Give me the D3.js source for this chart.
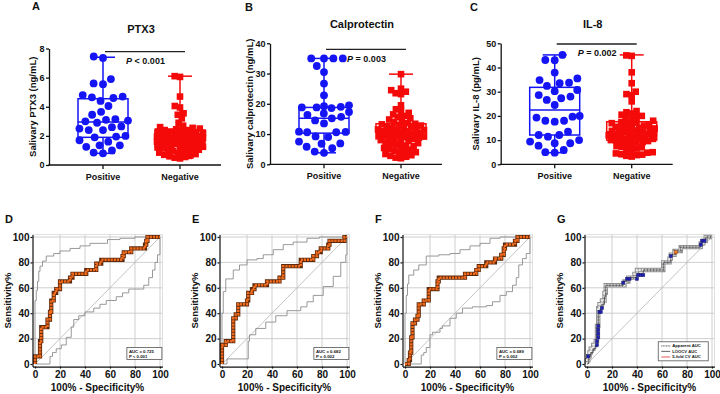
<!DOCTYPE html>
<html><head><meta charset="utf-8">
<script src="https://cdn.jsdelivr.net/npm/d3@7"></script>
<style>
body{margin:0;background:#fff}
svg{display:block}
text{font-family:"Liberation Sans",Arial,Helvetica,sans-serif;font-weight:bold;fill:#111}
</style>
</head><body>
<svg id="chart" width="720" height="394"></svg>
<script>
// ---------------- DATA ----------------
const groups = ["Positive", "Negative"];

const ptx3Pos = [7.45,7.35,5.9,5.6,5.55,4.8,4.7,4.65,4.6,4.4,4.05,3.65,3.45,3.15,3.1,3.05,3.0,2.9,2.65,2.6,2.5,2.4,2.4,2.0,1.95,1.9,1.7,1.6,1.35,1.35,1.25,1.0,0.85,0.8];
const ptx3Neg = [6.1,6.05,4.7,4.05,3.95,3.55,3.45,3.2,2.9,2.7,2.6,2.55,2.5,2.45,2.4,2.4,2.35,2.3,2.3,2.25,2.2,2.2,2.15,2.1,2.1,2.05,2.0,2.0,1.95,1.9,1.9,1.85,1.85,1.8,1.8,1.75,1.7,1.7,1.65,1.6,1.6,1.6,1.55,1.5,1.5,1.45,1.4,1.4,1.35,1.3,1.3,1.25,1.2,1.2,1.15,1.1,1.05,1.0,1.0,0.95,0.9,0.85,0.8,0.75,0.7,0.65,0.6,0.55,0.5,0.45];
const ptx3PosBox = [0.8, 1.9, 2.95, 4.55, 7.4];   // min, Q1, median, Q3, max
const ptx3NegBox = [0.45, 1.3, 1.8, 2.4, 6.1];
const ptx3Ticks = [0, 2, 4, 6, 8];

const calPos = [35,35,35,35,32.5,30.5,26.7,22.8,19.5,19.2,19,18.8,18.8,18.6,17.3,16.8,16.3,15.7,15.2,14.5,13.5,10.8,10.7,10.6,10.6,9.2,9,7.5,6.9,6.8,5.8,5.3,4.2,3.8];
const calNeg = [29.8,25.0,24.5,24.0,23.5,23.2,19.5,18.2,17.6,17.0,16.5,16.0,15.6,15.2,14.8,14.4,14.0,13.6,13.4,13.2,13.0,12.8,12.5,12.4,12.2,12.0,11.8,11.5,11.3,11.2,11.0,10.9,10.8,10.6,10.4,10.2,10.0,9.8,9.6,9.5,9.4,9.2,9.0,8.8,8.6,8.4,8.2,8.0,7.8,7.5,7.2,7.0,6.8,6.5,6.2,6.0,5.7,5.4,5.0,4.8,4.5,4.2,4.0,3.7,3.4,3.0,2.8,2.5,2.2,2.0];
const calPosBox = [3.8, 10.3, 15.2, 18.8, 35];
const calNegBox = [2.6, 8.4, 10.8, 13.4, 29.8];
const calTicks = [0, 10, 20, 30, 40];

const il8Pos = [45.2,43.1,43.0,37.9,35.5,34.8,33.7,33.5,32.4,30.7,30.2,28.6,28.0,27.3,26.6,24.5,20.0,19.7,19.3,18.0,18.0,17.6,13.5,12.1,12.1,11.4,10.0,9.4,8.7,8.7,7.7,5.9,4.8,5.0];
const il8Neg = [45,44.8,38,33.5,30,29,28.5,26,22,21.5,21,20.5,20,19.5,19,18.5,18,17.5,17.2,17,16.8,16.5,16.2,16,15.5,15.2,15,14.8,14.5,14.2,14,13.8,13.6,13.5,13.2,13,12.8,12.6,12.3,12,11.8,11.5,11.2,11,10.8,10.6,10.5,10.2,10,9.8,9.6,9.5,9.2,9,8.5,8,7.5,7.2,7,6.5,6,5.5,5,4.8,4.5,4.2,4,3.8,3.5,3.2];
const il8PosBox = [4.8, 12.1, 22.4, 31.8, 45.2];
const il8NegBox = [3.2, 10.0, 13.5, 17.6, 45.2];
const il8Ticks = [0, 10, 20, 30, 40, 50];

const topTitles = ["PTX3", "Calprotectin", "IL-8"];
const topYLabels = ["Salivary PTX3 (ng/mL)", "Salivary calprotectin (ng/mL)", "Salivary IL-8 (pg/mL)"];
const topPValues = ["< 0.001", "= 0.003", "= 0.002"];

// ROC curves: [100% - specificity %, sensitivity %]
const rocD = [[0,0],[0,6],[4,6],[4,18],[5,18],[5,29],[10,29],[10,35],[12,35],[12,41],[13,41],[13,50],[15,50],[15,56],[17,56],[17,59],[20,59],[20,65],[28,65],[28,68],[30,68],[30,71],[41,71],[41,74],[49,74],[49,79],[53,79],[53,82],[70,82],[70,85],[71,85],[71,88],[77,88],[77,91],[88,91],[88,94],[89,94],[89,97],[90,97],[90,100],[100,100]];
const rocDUpper = [[0,0],[0,50],[1,50],[1,58],[2,58],[2,65],[3,65],[3,73],[4,73],[4,77],[6,77],[6,81],[9,81],[9,85],[15,85],[15,87],[20,87],[20,89],[28,89],[28,91],[36,91],[36,93],[44,93],[44,95],[58,95],[58,98],[68,98],[68,99],[80,99],[80,100],[100,100]];
const rocDLower = [[0,0],[12,0],[12,6],[14,6],[14,9],[17,9],[17,12],[21,12],[21,15],[25,15],[25,21],[29,21],[29,29],[31,29],[31,35],[35,35],[35,38],[40,38],[40,41],[47,41],[47,44],[52,44],[52,47],[57,47],[57,50],[65,50],[65,53],[70,53],[70,56],[75,56],[75,59],[87,59],[87,62],[91,62],[91,68],[94,68],[94,74],[96,74],[96,80],[98,80],[98,86],[100,86],[100,100]];

const rocE = [[0,0],[0,15],[3,15],[3,18],[9,18],[9,36],[11,36],[11,39],[13,39],[13,47],[20,47],[20,50],[21,50],[21,56],[24,56],[24,59],[26,59],[26,62],[36,62],[36,65],[46,65],[46,68],[49,68],[49,77],[63,77],[63,82],[73,82],[73,85],[76,85],[76,88],[79,88],[79,91],[85,91],[85,94],[86,94],[86,97],[98,97],[98,100],[100,100]];
const rocEUpper = [[0,0],[0,40],[1,40],[1,57],[3,57],[3,67],[9,67],[9,74],[14,74],[14,78],[20,78],[20,82],[28,82],[28,83],[33,83],[33,86],[41,86],[41,90],[49,90],[49,94],[57,94],[57,96],[68,96],[68,99],[78,99],[78,100],[100,100]];
const rocELower = [[0,0],[4,0],[4,4],[21,4],[21,18],[22,18],[22,23],[27,23],[27,28],[35,28],[35,33],[43,33],[43,38],[52,38],[52,42],[63,42],[63,45],[68,45],[68,49],[73,49],[73,54],[81,54],[81,61],[89,61],[89,69],[95,69],[95,80],[99,80],[99,86],[100,86],[100,100]];

const rocF = [[0,0],[3,0],[3,3],[4,3],[4,9],[5,9],[5,21],[6,21],[6,32],[8,32],[8,35],[10,35],[10,38],[11,38],[11,47],[15,47],[15,50],[19,50],[19,59],[26,59],[26,65],[27,65],[27,68],[48,68],[48,71],[57,71],[57,74],[59,74],[59,77],[65,77],[65,80],[72,80],[72,83],[77,83],[77,86],[79,86],[79,91],[80,91],[80,94],[88,94],[88,97],[90,97],[90,100],[100,100]];
const rocFUpper = [[0,0],[0,40],[1,40],[1,54],[2,54],[2,63],[3,63],[3,70],[7,70],[7,74],[11,74],[11,78],[17,78],[17,85],[27,85],[27,86],[36,86],[36,87],[44,87],[44,90],[52,90],[52,93],[60,93],[60,95],[68,95],[68,99],[76,99],[76,100],[100,100]];
const rocFLower = [[0,0],[13,0],[13,7],[15,7],[15,9],[17,9],[17,13],[20,13],[20,23],[22,23],[22,25],[28,25],[28,28],[30,28],[30,30],[36,30],[36,36],[41,36],[41,40],[46,40],[46,44],[54,44],[54,45],[65,45],[65,46],[70,46],[70,49],[76,49],[76,54],[81,54],[81,57],[86,57],[86,62],[89,62],[89,68],[91,68],[91,78],[94,78],[94,83],[97,83],[97,87],[100,87],[100,100]];

const rocAUC = ["AUC = 0.725", "AUC = 0.682", "AUC = 0.689"];
const rocP = ["P < 0.001", "P = 0.002", "P = 0.002"];

const gApparent = [[0,0],[0,3],[1,3],[1,6],[2,6],[2,9],[3,9],[3,12],[5,12],[5,15],[7,15],[7,18],[8,18],[8,30],[9,30],[9,44],[10,44],[10,47],[12,47],[12,50],[14,50],[14,56],[15,56],[15,62],[30,62],[30,65],[33,65],[33,68],[38,68],[38,71],[40,71],[40,74],[61,74],[61,80],[66,80],[66,83],[67,83],[67,86],[70,86],[70,89],[75,89],[75,92],[91,92],[91,95],[93,95],[93,97],[95,97],[95,100],[100,100]];
const gLoocv = [[0,0],[1,0],[1,6],[3,6],[3,9],[5,9],[5,12],[7,12],[7,15],[8,15],[8,30],[9,30],[9,41],[11,41],[11,44],[12,44],[12,47],[14,47],[14,53],[15,53],[15,62],[29,62],[29,65],[32,65],[32,68],[40,68],[40,71],[45,71],[45,74],[61,74],[61,80],[67,80],[67,86],[71,86],[71,89],[75,89],[75,92],[91,92],[91,94],[92,94],[92,97],[95,97],[95,100],[100,100]];
const gCv5 = [[0,0],[0,3],[1,3],[1,6],[2,6],[2,9],[3,9],[3,12],[5,12],[5,15],[7,15],[7,18],[8,18],[8,30],[9,30],[9,44],[10,44],[10,47],[12,47],[12,50],[14,50],[14,56],[15,56],[15,62],[30,62],[30,65],[33,65],[33,68],[38,68],[38,71],[40,71],[40,74],[61,74],[61,80],[66,80],[66,83],[67,83],[67,86],[71,86],[71,88],[75,88],[75,92],[91,92],[91,95],[93,95],[93,97],[95,97],[95,100],[100,100]];
const gLoocvMarks = [[1,6],[8,15],[8,18],[9,21],[9,24],[9,27],[9,30],[10,41],[11,41],[12,44],[29,64],[32,67],[34,67],[40,67],[41,70],[43,70],[45,70],[67,85],[91,94],[92,97],[94,97]];
const gCv5Marks = [[71,88]];
const gLegend = ["Apparent AUC", "LOOCV AUC", "5-fold CV AUC"];

const rocTicks = [0, 20, 40, 60, 80, 100];
const rocLetters = ["D", "E", "F", "G"];

// ---------------- DRAW ----------------
const svg = d3.select("#chart");
const BLUE = "#1414f5", RED = "#f50a0a";

function swarm(vals, y, D, maxOff) {
  const pts = vals.map(v => ({v, y: y(v), x: 0})).sort((a, b) => d3.ascending(a.v, b.v));
  const placed = [];
  for (const p of pts) {
    const cands = [0];
    for (const q of placed) {
      const dy = Math.abs(q.y - p.y);
      if (dy < D) { const dx = Math.sqrt(D * D - dy * dy); cands.push(q.x + dx, q.x - dx); }
    }
    cands.sort((a, b) => Math.abs(a) - Math.abs(b) || a - b);
    let best = 0, bestScore = -Infinity;
    for (let c of cands) {
      c = Math.max(-maxOff, Math.min(maxOff, c));
      let md = Infinity;
      for (const q of placed) md = Math.min(md, Math.hypot(q.x - c, q.y - p.y));
      if (md >= D - 1e-6) { best = c; break; }
      if (md > bestScore) { bestScore = md; best = c; }
    }
    p.x = best; placed.push(p);
  }
  return pts;
}

const topPanels = [
  {letter:"A", lx:32, ly:10, ax:49, top:48.5, bottom:165, ticks:ptx3Ticks, pos:ptx3Pos, neg:ptx3Neg, posBox:ptx3PosBox, negBox:ptx3NegBox, ylx:33, barY:51.7},
  {letter:"B", lx:245, ly:11, ax:270, top:43.3, bottom:164.3, ticks:calTicks, pos:calPos, neg:calNeg, posBox:calPosBox, negBox:calNegBox, ylx:250, barY:49.3},
  {letter:"C", lx:470, ly:11, ax:500.7, top:43.3, bottom:164.3, ticks:il8Ticks, pos:il8Pos, neg:il8Neg, posBox:il8PosBox, negBox:il8NegBox, ylx:476, barY:44}
];

topPanels.forEach((P, i) => {
  const g = svg.append("g");
  const y = d3.scaleLinear().domain([0, d3.max(P.ticks)]).range([P.bottom, P.top]);
  const x = d3.scalePoint().domain(groups).range([P.ax + 54, P.ax + 131]);

  g.append("text").attr("x", P.lx).attr("y", P.ly).attr("font-size", 11).text(P.letter);
  g.append("text").attr("x", P.ax + 92).attr("y", P.top - 15.3).attr("font-size", 11)
    .attr("text-anchor", "middle").text(topTitles[i]);
  g.append("text").attr("transform", `translate(${P.ylx},${(P.top + P.bottom) / 2}) rotate(-90)`)
    .attr("dy", "0.35em").attr("font-size", 9.5).attr("text-anchor", "middle").text(topYLabels[i]);

  // y axis
  const ya = g.append("g").attr("transform", `translate(${P.ax},0)`)
    .call(d3.axisLeft(y).tickValues(P.ticks).tickSize(3).tickSizeOuter(0).tickPadding(1.5));
  ya.selectAll("path,line").attr("stroke", "#111").attr("stroke-width", 1.3);
  ya.selectAll("text").attr("font-size", 9).style("font-family", "Liberation Sans, Arial, sans-serif").style("font-weight", "bold").attr("fill", "#111");
  // x axis
  g.append("line").attr("x1", P.ax - 0.6).attr("x2", P.ax + 172).attr("y1", P.bottom).attr("y2", P.bottom)
    .attr("stroke", "#111").attr("stroke-width", 1.3);
  groups.forEach(k => {
    g.append("line").attr("x1", x(k)).attr("x2", x(k)).attr("y1", P.bottom).attr("y2", P.bottom + 4)
      .attr("stroke", "#111").attr("stroke-width", 1.3);
    g.append("text").attr("x", x(k)).attr("y", P.bottom + 15).attr("font-size", 9)
      .attr("text-anchor", "middle").text(k);
  });

  // boxes
  [[P.posBox, "Positive", BLUE], [P.negBox, "Negative", RED]].forEach(([b, k, col]) => {
    const cx = x(k), hw = 25, cw = 12;
    const bg = g.append("g").attr("stroke", col).attr("stroke-width", 1.5).attr("fill", "none");
    bg.append("rect").attr("x", cx - hw).attr("y", y(b[3])).attr("width", 2 * hw).attr("height", y(b[1]) - y(b[3]));
    bg.append("line").attr("x1", cx - hw).attr("x2", cx + hw).attr("y1", y(b[2])).attr("y2", y(b[2]));
    bg.append("line").attr("x1", cx).attr("x2", cx).attr("y1", y(b[3])).attr("y2", y(b[4]));
    bg.append("line").attr("x1", cx).attr("x2", cx).attr("y1", y(b[1])).attr("y2", y(b[0]));
    bg.append("line").attr("x1", cx - cw).attr("x2", cx + cw).attr("y1", y(b[4])).attr("y2", y(b[4]));
    bg.append("line").attr("x1", cx - cw).attr("x2", cx + cw).attr("y1", y(b[0])).attr("y2", y(b[0]));
  });

  // points
  const posPts = swarm(P.pos, y, 9.4, 25);
  g.append("g").selectAll("circle").data(posPts).join("circle")
    .attr("cx", d => x("Positive") + d.x).attr("cy", d => d.y).attr("r", 3.9).attr("fill", BLUE);
  const negPts = swarm(P.neg, y, 5.4, 23);
  g.append("g").selectAll("rect").data(negPts).join("rect")
    .attr("x", d => x("Negative") + d.x - 3.3).attr("y", d => d.y - 3.3)
    .attr("width", 6.6).attr("height", 6.6).attr("fill", RED);

  // significance bar
  g.append("line").attr("x1", x("Positive") + 2).attr("x2", x("Negative") + 5)
    .attr("y1", P.barY).attr("y2", P.barY).attr("stroke", "#222").attr("stroke-width", 1.3);
  const pt = g.append("text").attr("x", (x("Positive") + x("Negative")) / 2 + 4).attr("y", P.barY + 12.3)
    .attr("font-size", 9).attr("text-anchor", "middle");
  pt.append("tspan").attr("font-style", "italic").text("P");
  pt.append("tspan").text(" " + topPValues[i]);
});

// ROC panels
const rocPanels = [
  {x0:35, curve:rocD, up:rocDUpper, lo:rocDLower, k:0},
  {x0:222, curve:rocE, up:rocEUpper, lo:rocELower, k:1},
  {x0:405, curve:rocF, up:rocFUpper, lo:rocFLower, k:2},
  {x0:587, g:true, k:3}
];
const Y0 = 364, YH = 127;
const line = d3.line();

rocPanels.forEach((P) => {
  const g = svg.append("g");
  const x = d3.scaleLinear().domain([-2, 102]).range([P.x0 - 0.02 * 125, P.x0 + 1.02 * 125]);
  const y = d3.scaleLinear().domain([-2, 102]).range([Y0 + 0.02 * YH, Y0 - 1.02 * YH]);
  const lf = d3.line().x(d => x(d[0])).y(d => y(d[1]));

  // grid
  const gg = g.append("g").attr("stroke", "#c9c9c9").attr("stroke-width", 0.9);
  rocTicks.filter(t => t > 0).forEach(t => {
    gg.append("line").attr("x1", x(t)).attr("x2", x(t)).attr("y1", y(-2)).attr("y2", y(102));
    gg.append("line").attr("x1", x(-2)).attr("x2", x(102)).attr("y1", y(t)).attr("y2", y(t));
  });
  gg.append("line").attr("x1", x(102)).attr("x2", x(102)).attr("y1", y(-2)).attr("y2", y(102)).attr("stroke", "#dcdcdc");
  gg.append("line").attr("x1", x(-2)).attr("x2", x(102)).attr("y1", y(102)).attr("y2", y(102)).attr("stroke", "#dcdcdc");

  // diagonal
  g.append("path").attr("d", lf([[0, 0], [100, 100]])).attr("stroke", "#b4b4b4").attr("stroke-width", 0.8).attr("fill", "none");

  if (!P.g) {
    [P.up, P.lo].forEach(c => g.append("path").attr("d", lf(c)).attr("fill", "none")
      .attr("stroke", "#8d8d8d").attr("stroke-width", 0.9));
    g.append("path").attr("d", lf(P.curve)).attr("fill", "none").attr("stroke", "#5e2a0c").attr("stroke-width", 4.2);
    g.append("path").attr("d", lf(P.curve)).attr("fill", "none").attr("stroke", "#f26b1d").attr("stroke-width", 2.5)
      .attr("stroke-dasharray", "2.2,0.9");
    // AUC box
    const bx = x(101.5) - 35, by = y(3.5) - 12;
    g.append("rect").attr("x", bx).attr("y", by).attr("width", 35).attr("height", 12)
      .attr("fill", "#fff").attr("stroke", "#555").attr("stroke-width", 0.8);
    g.append("text").attr("x", bx + 2).attr("y", by + 5).attr("font-size", 4.3).text(rocAUC[P.k]);
    g.append("text").attr("x", bx + 2).attr("y", by + 10).attr("font-size", 4.3).text(rocP[P.k]);
  } else {
    g.append("path").attr("d", lf(gCv5)).attr("fill", "none").attr("stroke", "#e0302a").attr("stroke-width", 0.9);
    g.append("path").attr("d", lf(gApparent)).attr("fill", "none").attr("stroke", "#8f8f8f").attr("stroke-width", 4.4);
    g.append("path").attr("d", lf(gApparent)).attr("fill", "none").attr("stroke", "#ececec").attr("stroke-width", 2.4)
      .attr("stroke-dasharray", "2,1.1");
    g.append("path").attr("d", lf(gLoocv)).attr("fill", "none").attr("stroke", "#333").attr("stroke-width", 0.7);
    g.append("g").selectAll("rect").data(gLoocvMarks).join("rect")
      .attr("x", d => x(d[0]) - 1.6).attr("y", d => y(d[1]) - 1.6).attr("width", 3.2).attr("height", 3.2)
      .attr("fill", "#1f1fb0").attr("stroke", "#202060").attr("stroke-width", 0.4);
    g.append("g").selectAll("rect").data(gCv5Marks).join("rect")
      .attr("x", d => x(d[0]) - 1.6).attr("y", d => y(d[1]) - 1.6).attr("width", 3.2).attr("height", 3.2)
      .attr("fill", "#f07a20").attr("stroke", "#7a3a10").attr("stroke-width", 0.4);
    // legend
    const lx = x(57), ly = y(17.5), lw = x(97) - x(57), lh = y(2.5) - y(17.5);
    g.append("rect").attr("x", lx).attr("y", ly).attr("width", lw).attr("height", lh)
      .attr("fill", "#fff").attr("stroke", "#555").attr("stroke-width", 0.8);
    const styles = [{s:"#9a9a9a", w:1.8, d:"1,0.6"}, {s:"#222", w:0.7}, {s:"#e0302a", w:0.8}];
    gLegend.forEach((t, j) => {
      const yy = ly + 4 + j * 5.6;
      g.append("line").attr("x1", lx + 3).attr("x2", lx + 12).attr("y1", yy).attr("y2", yy)
        .attr("stroke", styles[j].s).attr("stroke-width", styles[j].w).attr("stroke-dasharray", styles[j].d || null);
      g.append("text").attr("x", lx + 14).attr("y", yy + 1.5).attr("font-size", 4.2).text(t);
    });
  }

  // axes
  const ya = g.append("g").attr("transform", `translate(${x(-2)},0)`)
    .call(d3.axisLeft(y).tickValues(rocTicks).tickSize(2).tickSizeOuter(0).tickPadding(1));
  const xa = g.append("g").attr("transform", `translate(0,${y(-2)})`)
    .call(d3.axisBottom(x).tickValues(rocTicks).tickSize(2).tickSizeOuter(0).tickPadding(2));
  [ya, xa].forEach(a => {
    a.selectAll("path,line").attr("stroke", "#111").attr("stroke-width", 1.2);
    a.selectAll("text").attr("font-size", 10).style("font-family", "Liberation Sans, Arial, sans-serif")
      .style("font-weight", "bold").attr("fill", "#111");
  });

  g.append("text").attr("x", P.x0 - 30).attr("y", 223).attr("font-size", 11).text(rocLetters[P.k]);
  g.append("text").attr("transform", `translate(${P.x0 - 27.5},${Y0 - YH / 2}) rotate(-90)`)
    .attr("dy", "0.35em").attr("font-size", 9.5).attr("text-anchor", "middle").text("Sensitivity%");
  g.append("text").attr("x", x(50)).attr("y", 391).attr("font-size", 10).attr("text-anchor", "middle")
    .text("100% - Specificity%");
});
</script>
</body></html>
